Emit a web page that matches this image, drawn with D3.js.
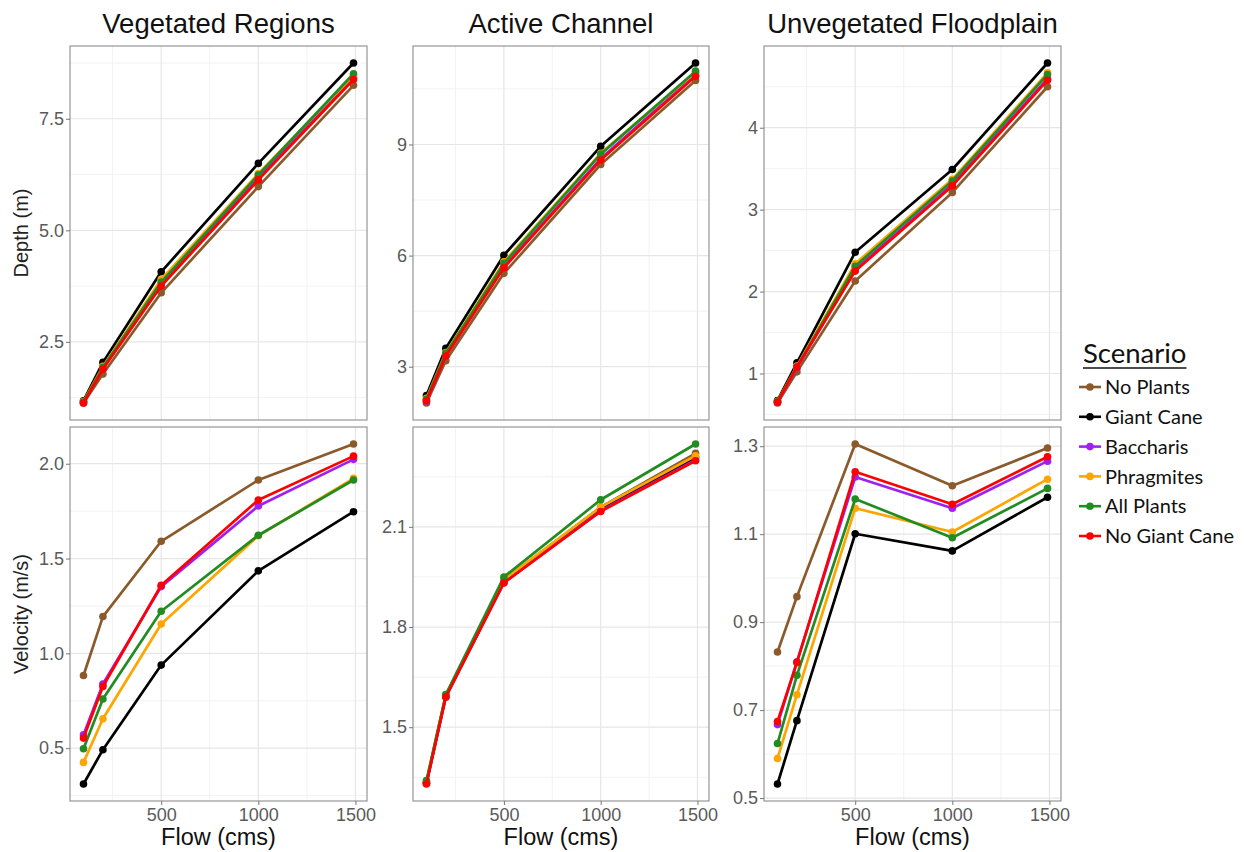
<!DOCTYPE html>
<html>
<head>
<meta charset="utf-8">
<script src="https://cdn.jsdelivr.net/npm/d3@7"></script>
<style>
  body { margin: 0; background: #fff; }
  svg { display: block; font-family: "Liberation Sans", Arial, sans-serif; }
</style>
</head>
<body>
<script>
// flows (cms) at which each scenario was modelled
const flows = [100, 200, 500, 1000, 1490];

const scenarios = ['No Plants', 'Giant Cane', 'Baccharis', 'Phragmites', 'All Plants', 'No Giant Cane'];
const scenarioColors = ['#8B5A2B', '#000000', '#A020F0', '#FFA500', '#228B22', '#FF0000'];

const panelTitles = ['Vegetated Regions', 'Active Channel', 'Unvegetated Floodplain'];

// depth (m), one row per scenario in the order above
const depthVegetated = [
    [1.13, 1.78, 3.60, 5.98, 8.25],
    [1.18, 2.04, 4.07, 6.50, 8.75],
    [1.14, 1.90, 3.80, 6.18, 8.42],
    [1.16, 1.95, 3.90, 6.27, 8.47],
    [1.15, 1.93, 3.84, 6.24, 8.51],
    [1.13, 1.89, 3.75, 6.13, 8.38]
];
const depthActive = [
    [2.02, 3.16, 5.52, 8.46, 10.73],
    [2.22, 3.50, 6.01, 8.95, 11.20],
    [2.07, 3.30, 5.70, 8.62, 10.88],
    [2.15, 3.38, 5.83, 8.76, 10.95],
    [2.12, 3.36, 5.79, 8.74, 10.98],
    [2.08, 3.29, 5.67, 8.58, 10.84]
];
const depthUnvegetated = [
    [0.64, 1.02, 2.13, 3.21, 4.50],
    [0.67, 1.13, 2.48, 3.49, 4.79],
    [0.65, 1.07, 2.27, 3.31, 4.60],
    [0.66, 1.09, 2.34, 3.37, 4.67],
    [0.66, 1.08, 2.31, 3.35, 4.65],
    [0.65, 1.08, 2.25, 3.29, 4.58]
];

// velocity (m/s)
const velocityVegetated = [
    [0.883, 1.194, 1.591, 1.914, 2.104],
    [0.311, 0.492, 0.938, 1.435, 1.747],
    [0.571, 0.838, 1.352, 1.777, 2.023],
    [0.425, 0.655, 1.155, 1.620, 1.923],
    [0.497, 0.759, 1.222, 1.623, 1.914],
    [0.553, 0.825, 1.359, 1.809, 2.040]
];
const velocityActive = [
    [1.335, 1.595, 1.940, 2.159, 2.320],
    [1.333, 1.593, 1.935, 2.153, 2.308],
    [1.332, 1.592, 1.933, 2.148, 2.300],
    [1.336, 1.597, 1.942, 2.159, 2.313],
    [1.340, 1.598, 1.950, 2.181, 2.348],
    [1.330, 1.590, 1.932, 2.146, 2.298]
];
const velocityUnvegetated = [
    [0.832, 0.958, 1.305, 1.210, 1.296],
    [0.532, 0.676, 1.101, 1.062, 1.184],
    [0.667, 0.810, 1.230, 1.159, 1.266],
    [0.590, 0.735, 1.159, 1.105, 1.225],
    [0.624, 0.779, 1.180, 1.092, 1.204],
    [0.674, 0.808, 1.242, 1.168, 1.276]
];

// tick values
const xTicks = [500, 1000, 1500];
const xMinor = [250, 750, 1250];
const depthTicks = [[2.5, 5.0, 7.5], [3, 6, 9], [1, 2, 3, 4]];
const depthMinor = [[1.25, 3.75, 6.25, 8.75], [1.5, 4.5, 7.5, 10.5], [0.5, 1.5, 2.5, 3.5, 4.5]];
const velocityTicks = [[0.5, 1.0, 1.5, 2.0], [1.5, 1.8, 2.1], [0.5, 0.7, 0.9, 1.1, 1.3]];
const velocityMinor = [[0.25, 0.75, 1.25, 1.75], [1.35, 1.65, 1.95, 2.25], [0.6, 0.8, 1.0, 1.2]];

const depthData = [depthVegetated, depthActive, depthUnvegetated];
const velocityData = [velocityVegetated, velocityActive, velocityUnvegetated];
const depthFormats = ['.1f', 'd', 'd'];

const cols = [[70, 367], [413, 709], [764, 1061]];
const rows = [[46, 420], [427, 801]];
const FONT = '"Liberation Sans", Arial, sans-serif';

const svg = d3.select('body')
    .append('svg')
    .attr('width', 1245)
    .attr('height', 852);

// ggplot-style 5% expansion
function expand(ext) {
    const pad = (ext[1] - ext[0]) * 0.05;
    return [ext[0] - pad, ext[1] + pad];
}

const xScales = cols.map(c => d3.scaleLinear()
    .domain(expand(d3.extent(flows)))
    .range(c));

function styleAxis(axisG) {
    axisG.attr('font-family', FONT).attr('font-size', 18);
    axisG.select('.domain').remove();
    axisG.selectAll('line').attr('stroke', '#777');
    axisG.selectAll('text').attr('fill', '#5a5a5a');
}

function drawPanel(col, row, series, ticks, minor, fmt, showX) {
    const [x0, x1] = cols[col];
    const [y0, y1] = rows[row];
    const x = xScales[col];
    const y = d3.scaleLinear()
        .domain(expand(d3.extent(series.flat())))
        .range([y1, y0]);

    const g = svg.append('g');

    // grid
    g.selectAll('.minor-y').data(minor.filter(v => y(v) > y0 && y(v) < y1)).enter()
        .append('line')
        .attr('x1', x0).attr('x2', x1)
        .attr('y1', d => y(d)).attr('y2', d => y(d))
        .attr('stroke', '#f2f2f2').attr('stroke-width', 1);
    g.selectAll('.minor-x').data(xMinor).enter()
        .append('line')
        .attr('y1', y0).attr('y2', y1)
        .attr('x1', d => x(d)).attr('x2', d => x(d))
        .attr('stroke', '#f2f2f2').attr('stroke-width', 1);
    g.selectAll('.major-y').data(ticks).enter()
        .append('line')
        .attr('x1', x0).attr('x2', x1)
        .attr('y1', d => y(d)).attr('y2', d => y(d))
        .attr('stroke', '#e6e6e6').attr('stroke-width', 1.2);
    g.selectAll('.major-x').data(xTicks).enter()
        .append('line')
        .attr('y1', y0).attr('y2', y1)
        .attr('x1', d => x(d)).attr('x2', d => x(d))
        .attr('stroke', '#e6e6e6').attr('stroke-width', 1.2);

    const line = d3.line()
        .x((d, i) => x(flows[i]))
        .y(d => y(d));

    series.forEach((vals, s) => {
        g.append('path')
            .datum(vals)
            .attr('fill', 'none')
            .attr('stroke', scenarioColors[s])
            .attr('stroke-width', 2.7)
            .attr('stroke-linejoin', 'round')
            .attr('d', line);
        g.selectAll(null)
            .data(vals)
            .enter()
            .append('circle')
            .attr('cx', (d, i) => x(flows[i]))
            .attr('cy', d => y(d))
            .attr('r', 3.8)
            .attr('fill', scenarioColors[s]);
    });

    g.append('rect')
        .attr('x', x0).attr('y', y0)
        .attr('width', x1 - x0).attr('height', y1 - y0)
        .attr('fill', 'none')
        .attr('stroke', '#8c8c8c')
        .attr('stroke-width', 1.1);

    const yAxis = g.append('g')
        .attr('transform', `translate(${x0},0)`)
        .call(d3.axisLeft(y).tickValues(ticks).tickSize(4).tickPadding(2).tickFormat(d3.format(fmt)));
    styleAxis(yAxis);

    if (showX) {
        const xAxis = g.append('g')
            .attr('transform', `translate(0,${y1})`)
            .call(d3.axisBottom(x).tickValues(xTicks).tickSize(4).tickPadding(3).tickFormat(d3.format('d')));
        styleAxis(xAxis);

        g.append('text')
            .attr('x', (x0 + x1) / 2)
            .attr('y', 845)
            .attr('text-anchor', 'middle')
            .style('font-size', '23.5px')
            .attr('fill', '#111')
            .text('Flow (cms)');
    }
}

for (let c = 0; c < 3; c++) {
    drawPanel(c, 0, depthData[c], depthTicks[c], depthMinor[c], depthFormats[c], false);
    drawPanel(c, 1, velocityData[c], velocityTicks[c], velocityMinor[c], '.1f', true);

    svg.append('text')
        .attr('x', (cols[c][0] + cols[c][1]) / 2)
        .attr('y', 33)
        .attr('text-anchor', 'middle')
        .style('font-size', '27.5px')
        .attr('fill', '#111')
        .text(panelTitles[c]);
}

// y axis titles
svg.append('text')
    .attr('transform', `translate(28,${(rows[0][0] + rows[0][1]) / 2}) rotate(-90)`)
    .attr('text-anchor', 'middle')
    .style('font-size', '20px')
    .attr('fill', '#222')
    .text('Depth (m)');
svg.append('text')
    .attr('transform', `translate(28,${(rows[1][0] + rows[1][1]) / 2}) rotate(-90)`)
    .attr('text-anchor', 'middle')
    .style('font-size', '20px')
    .attr('fill', '#222')
    .text('Velocity (m/s)');

// legend
const legend = svg.append('g')
    .style('font-family', 'Lato, "Open Sans", sans-serif');
const title = legend.append('text')
    .attr('x', 1083)
    .attr('y', 363)
    .style('font-size', '27.5px')
    .attr('fill', '#111')
    .text('Scenario');
const tw = title.node().getComputedTextLength();
legend.append('line')
    .attr('x1', 1083).attr('x2', 1083 + tw)
    .attr('y1', 368).attr('y2', 368)
    .attr('stroke', '#111').attr('stroke-width', 1.6);

const items = legend.selectAll('.item')
    .data(scenarios)
    .enter()
    .append('g')
    .attr('transform', (d, i) => `translate(0,${387 + i * 29.8})`);
items.append('line')
    .attr('x1', 1079).attr('x2', 1101)
    .attr('stroke', (d, i) => scenarioColors[i])
    .attr('stroke-width', 2.6);
items.append('circle')
    .attr('cx', 1090)
    .attr('r', 3.8)
    .attr('fill', (d, i) => scenarioColors[i]);
items.append('text')
    .attr('x', 1105)
    .attr('dy', '0.36em')
    .style('font-size', '20px')
    .attr('fill', '#111')
    .text(d => d);
</script>
</body>
</html>
